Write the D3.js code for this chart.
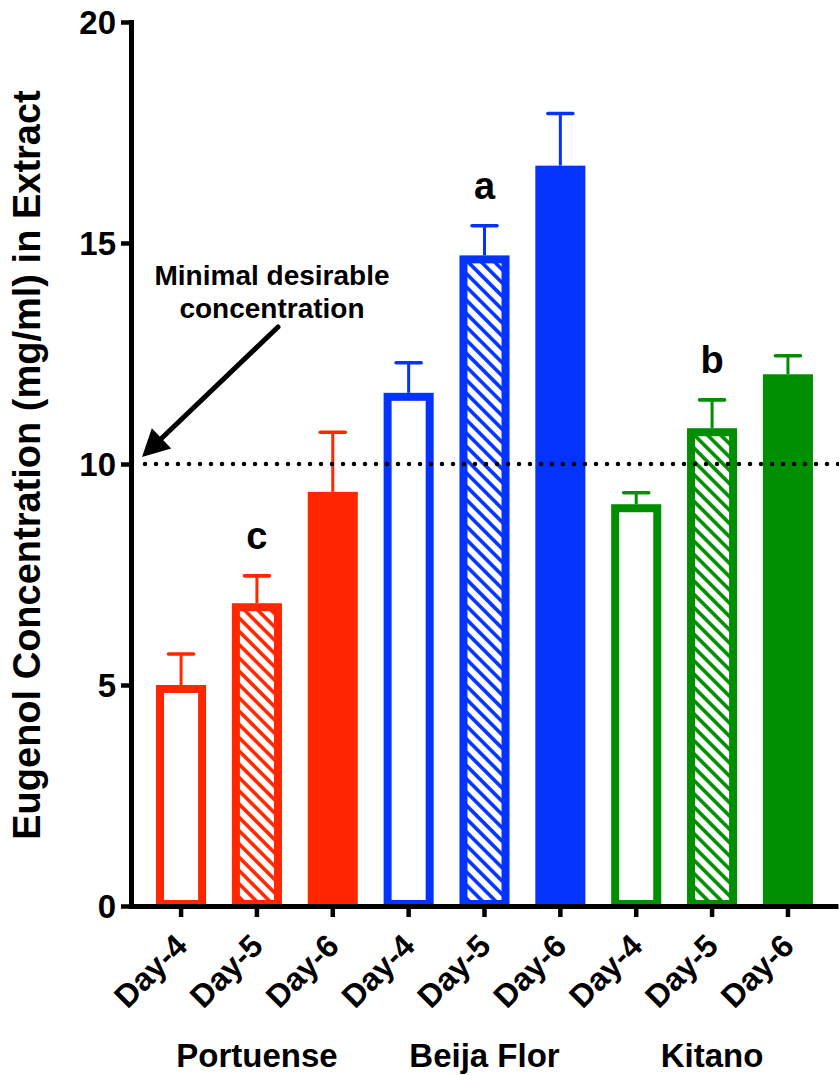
<!DOCTYPE html>
<html>
<head>
<meta charset="utf-8">
<script src="https://cdn.jsdelivr.net/npm/d3@7"></script>
<style>
  html, body { margin: 0; padding: 0; background: #fff; }
  svg { display: block; font-family: "Liberation Sans", Arial, Helvetica, sans-serif; font-weight: bold; }
</style>
</head>
<body>
<svg id="chart" width="839" height="1075"></svg>
<script>
// Eugenol concentration by variety and harvest day
const groups = ["Portuense", "Beija Flor", "Kitano"];
const days = ["Day-4", "Day-5", "Day-6"];
const groupColors = ["#FF2600", "#0433FF", "#008F00"];
const dayStyles = ["open", "hatch", "solid"];
const means = [
  [5.00, 6.85, 9.37],    // Portuense
  [11.61, 14.72, 16.75], // Beija Flor
  [9.09, 10.81, 12.03]   // Kitano
];
const sems = [
  [0.70, 0.62, 1.35],
  [0.68, 0.67, 1.18],
  [0.26, 0.64, 0.42]
];
const letters = ["c", "a", "b"]; // significance letters on Day-5 bars
const yTicks = [0, 5, 10, 15, 20];
const threshold = 10;
const annotationLines = ["Minimal desirable", "concentration"];
const yTitle = "Eugenol Concentration (mg/ml) in Extract";

const rows = [];
groups.forEach((g, gi) => days.forEach((d, di) => rows.push({
  key: g + "|" + d, group: g, day: d, gi, di,
  mean: means[gi][di], sem: sems[gi][di],
  color: groupColors[gi], style: dayStyles[di]
})));

const svg = d3.select("#chart");

const x = d3.scaleBand()
  .domain(rows.map(r => r.key))
  .range([131, 838])
  .paddingInner(0.34)
  .paddingOuter(0.33);
const y = d3.scaleLinear().domain([0, 20]).range([906, 22]);
const bw = x.bandwidth();
const sw = 8; // outline thickness of open / hatched bars

// hatch patterns, one per colour
const defs = svg.append("defs");
groupColors.forEach((c, i) => {
  const p = defs.append("pattern")
    .attr("id", "hatch" + i)
    .attr("patternUnits", "userSpaceOnUse")
    .attr("width", 9.4).attr("height", 9.4)
    .attr("patternTransform", "rotate(-45)");
  p.append("rect").attr("width", 9.4).attr("height", 9.4).attr("fill", "#fff");
  p.append("line").attr("x1", 4.7).attr("x2", 4.7).attr("y1", -1).attr("y2", 10.4)
    .attr("stroke", c).attr("stroke-width", 3.6);
});

// bars
const bars = svg.append("g");
rows.forEach(r => {
  if (r.style === "solid") {
    bars.append("rect")
      .attr("x", x(r.key)).attr("y", y(r.mean))
      .attr("width", bw).attr("height", y(0) - y(r.mean))
      .attr("fill", r.color);
  } else {
    bars.append("rect")
      .attr("x", x(r.key) + sw / 2).attr("y", y(r.mean) + sw / 2)
      .attr("width", bw - sw).attr("height", y(0) - y(r.mean) - sw / 2 - 2)
      .attr("fill", r.style === "hatch" ? "url(#hatch" + r.gi + ")" : "#fff")
      .attr("stroke", r.color).attr("stroke-width", sw);
  }
});

// upper error bars
const errs = svg.append("g");
rows.forEach(r => {
  const cx = x(r.key) + bw / 2;
  errs.append("line")
    .attr("x1", cx).attr("x2", cx)
    .attr("y1", y(r.mean)).attr("y2", y(r.mean + r.sem))
    .attr("stroke", r.color).attr("stroke-width", 3);
  errs.append("line")
    .attr("x1", cx - 12.5).attr("x2", cx + 12.5)
    .attr("y1", y(r.mean + r.sem)).attr("y2", y(r.mean + r.sem))
    .attr("stroke", r.color).attr("stroke-width", 3.6)
    .attr("stroke-linecap", "round");
});

// significance letters
rows.filter(r => r.di === 1).forEach(r => {
  svg.append("text")
    .attr("x", x(r.key) + bw / 2)
    .attr("y", y(r.mean + r.sem) - 27)
    .attr("text-anchor", "middle")
    .attr("font-size", 38)
    .text(letters[r.gi]);
});

// threshold line
svg.append("line")
  .attr("x1", 145).attr("x2", 839)
  .attr("y1", y(threshold)).attr("y2", y(threshold))
  .attr("stroke", "#000").attr("stroke-width", 4.5)
  .attr("stroke-dasharray", "0,11").attr("stroke-linecap", "round");

// annotation text and arrow
const ann = svg.append("g");
annotationLines.forEach((t, i) => {
  ann.append("text")
    .attr("x", 272).attr("y", 285 + i * 33)
    .attr("text-anchor", "middle")
    .attr("font-size", 28)
    .text(t);
});
const start = [278, 327];
const tip = [142, y(threshold) - 7];
const dx = tip[0] - start[0], dy = tip[1] - start[1];
const len = Math.hypot(dx, dy);
const ux = dx / len, uy = dy / len;
const headLen = 27, headHalf = 14;
const base = [tip[0] - ux * headLen, tip[1] - uy * headLen];
ann.append("line")
  .attr("x1", start[0]).attr("y1", start[1])
  .attr("x2", base[0] + ux * 2).attr("y2", base[1] + uy * 2)
  .attr("stroke", "#000").attr("stroke-width", 5).attr("stroke-linecap", "round");
ann.append("path")
  .attr("d", d3.line()([
    tip,
    [base[0] - uy * headHalf, base[1] + ux * headHalf],
    [base[0] + uy * headHalf, base[1] - ux * headHalf]
  ]) + "Z")
  .attr("fill", "#000");

// y axis
const yAxis = svg.append("g")
  .attr("transform", "translate(131,0)")
  .call(d3.axisLeft(y).tickValues(yTicks).tickSize(10).tickSizeOuter(0).tickPadding(5));
yAxis.select(".domain").attr("stroke-width", 5).attr("stroke-linecap", "square");
yAxis.selectAll(".tick line").attr("stroke-width", 4.5);
yAxis.selectAll(".tick text")
  .attr("font-size", 33).attr("font-family", null).attr("font-weight", "bold")
  .attr("fill", "#000").attr("dy", "0.34em");

// x axis
const xAxis = svg.append("g")
  .attr("transform", "translate(0," + y(0) + ")")
  .call(d3.axisBottom(x).tickSize(11).tickSizeOuter(0).tickFormat(k => k.split("|")[1]));
xAxis.select(".domain").attr("stroke-width", 5);
xAxis.selectAll(".tick line").attr("stroke-width", 4.5);
xAxis.selectAll(".tick text")
  .attr("font-size", 32).attr("font-family", null).attr("font-weight", "bold")
  .attr("fill", "#000")
  .attr("y", 0).attr("dy", 0)
  .attr("text-anchor", "end")
  .attr("transform", "translate(8,42) rotate(-45)");
xAxis.attr("font-family", null);
yAxis.attr("font-family", null);

// group labels
groups.forEach((g, gi) => {
  svg.append("text")
    .attr("x", x(g + "|" + days[1]) + bw / 2)
    .attr("y", 1067)
    .attr("text-anchor", "middle")
    .attr("font-size", 33)
    .text(g);
});

// y axis title
svg.append("text")
  .attr("transform", "translate(40," + ((y(0) + y(20)) / 2 + 1) + ") rotate(-90)")
  .attr("text-anchor", "middle")
  .attr("font-size", 38)
  .text(yTitle);
</script>
</body>
</html>
